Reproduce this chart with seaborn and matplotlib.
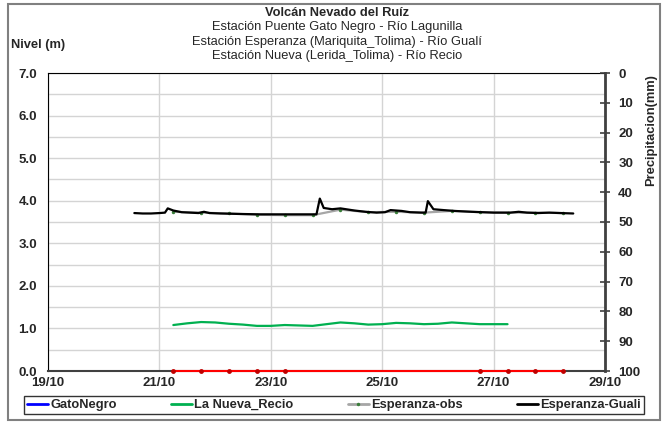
import matplotlib
matplotlib.use("Agg")
import matplotlib.pyplot as plt
import matplotlib.dates as mdates
from matplotlib.patches import Rectangle
from matplotlib.lines import Line2D
import seaborn as sns
import pandas as pd
import numpy as np

# Fechas en dias de octubre (fraccion de dia)
guali_dias = [20.55, 20.7, 20.85, 21.0, 21.1, 21.15, 21.25, 21.4, 21.55, 21.7, 21.8, 21.9,
              22.1, 22.4, 22.8, 23.2, 23.5, 23.82, 23.88, 23.95, 24.1, 24.25, 24.5, 24.7,
              24.9, 25.05, 25.15, 25.35, 25.5, 25.7, 25.78, 25.82, 25.92, 26.1, 26.3, 26.6,
              27.0, 27.3, 27.45, 27.6, 27.8, 28.0, 28.2, 28.43]
guali_nivel = [3.71, 3.70, 3.70, 3.71, 3.72, 3.82, 3.77, 3.73, 3.72, 3.71, 3.74, 3.71,
               3.70, 3.69, 3.68, 3.68, 3.68, 3.68, 4.05, 3.83, 3.80, 3.82, 3.77, 3.74,
               3.72, 3.73, 3.78, 3.76, 3.73, 3.72, 3.72, 3.99, 3.80, 3.78, 3.76, 3.74,
               3.72, 3.72, 3.74, 3.72, 3.71, 3.72, 3.71, 3.70]

obs_dias = [21.25, 21.75, 22.25, 22.75, 23.25, 23.75, 24.25, 24.75, 25.25, 25.75,
            26.25, 26.75, 27.25, 27.75, 28.25]
obs_nivel = [3.74, 3.72, 3.70, 3.67, 3.66, 3.66, 3.79, 3.73, 3.74, 3.72,
             3.76, 3.73, 3.72, 3.72, 3.71]

recio_dias = [21.25, 21.5, 21.75, 22.0, 22.25, 22.5, 22.75, 23.0, 23.25, 23.5, 23.75,
              24.0, 24.25, 24.5, 24.75, 25.0, 25.25, 25.5, 25.75, 26.0, 26.25, 26.5,
              26.75, 27.0, 27.25]
recio_nivel = [1.08, 1.12, 1.15, 1.14, 1.11, 1.09, 1.06, 1.06, 1.08, 1.07, 1.06,
               1.10, 1.14, 1.12, 1.09, 1.10, 1.13, 1.12, 1.10, 1.11, 1.14, 1.12,
               1.10, 1.10, 1.10]

cero_dias = [21.25, 21.75, 22.25, 22.75, 23.25, 26.75, 27.25, 27.75, 28.25]
cero_nivel = [0, 0, 0, 0, 0, 0, 0, 0, 0]


def to_dates(dias):
    base = pd.Timestamp("2012-10-01")
    return [base + pd.Timedelta(days=d - 1) for d in dias]


sns.set_style("white")
plt.rcParams['font.family'] = ['Liberation Sans', 'DejaVu Sans']

fig = plt.figure(figsize=(6.66, 4.24), dpi=100)
ax = fig.add_axes([48 / 666, 53 / 424, 557 / 666, 298 / 424])

df_g = pd.DataFrame({"fecha": to_dates(guali_dias), "nivel": guali_nivel})
df_o = pd.DataFrame({"fecha": to_dates(obs_dias), "nivel": obs_nivel})
df_r = pd.DataFrame({"fecha": to_dates(recio_dias), "nivel": recio_nivel})
df_c = pd.DataFrame({"fecha": to_dates(cero_dias), "nivel": cero_nivel})

sns.lineplot(data=df_r, x="fecha", y="nivel", ax=ax, color="#00b050", lw=1.6)
sns.lineplot(data=df_o, x="fecha", y="nivel", ax=ax, color="#a6a6a6", lw=1.6,
             marker="o", markersize=2.5, markerfacecolor="#3a7d3a", markeredgewidth=0)
sns.lineplot(data=df_g, x="fecha", y="nivel", ax=ax, color="black", lw=1.6)
sns.lineplot(data=df_c, x="fecha", y="nivel", ax=ax, color="red", lw=1.5,
             marker="o", markersize=3.5, markerfacecolor="#c00000", markeredgewidth=0,
             clip_on=False, zorder=5)

ax.set_xlim(pd.Timestamp("2012-10-19"), pd.Timestamp("2012-10-29"))
ax.set_ylim(0, 7)
ax.xaxis.set_major_locator(mdates.DayLocator(bymonthday=[19, 21, 23, 25, 27, 29]))
ax.xaxis.set_major_formatter(mdates.DateFormatter("%d/%m"))
ax.set_yticks(np.arange(0, 7.1, 1.0))
ax.set_yticks(np.arange(0, 7.1, 0.5), minor=True)
ax.yaxis.set_major_formatter(matplotlib.ticker.FormatStrFormatter("%.1f"))
ax.grid(True, which="both", axis="y", color="#d4d4d4", lw=1)
ax.grid(True, which="major", axis="x", color="#d4d4d4", lw=1)
ax.set_axisbelow(True)
ax.set_xlabel("")
ax.set_ylabel("")
ax.tick_params(axis="y", which="both", length=0, pad=8, labelsize=9.5)
ax.tick_params(axis="x", length=0, pad=4, labelsize=9.5)
for lab in ax.get_xticklabels() + ax.get_yticklabels():
    lab.set_fontweight("bold")

ax.spines["left"].set_color("black")
ax.spines["left"].set_linewidth(0.8)
ax.spines["top"].set_color("black")
ax.spines["top"].set_linewidth(0.8)
ax.spines["bottom"].set_color("#404040")
ax.spines["bottom"].set_linewidth(1.5)
ax.spines["right"].set_visible(False)

ax2 = ax.twinx()
ax2.set_ylim(100, 0)
ax2.set_yticks(np.arange(0, 101, 10))
ax2.tick_params(axis="y", direction="inout", length=7, width=1.2, color="#404040",
                labelsize=9.5, pad=6)
for lab in ax2.get_yticklabels():
    lab.set_fontweight("bold")
for s in ["left", "top", "bottom"]:
    ax2.spines[s].set_visible(False)
ax2.spines["right"].set_color("#404040")
ax2.spines["right"].set_linewidth(2)

# Titulos
fig.text(337 / 666, 1 - 13 / 424, "Volcán Nevado del Ruíz", ha="center", va="center",
         fontsize=9.3, fontweight="bold")
fig.text(337 / 666, 1 - 27 / 424, "Estación Puente Gato Negro - Río Lagunilla",
         ha="center", va="center", fontsize=9.3)
fig.text(337 / 666, 1 - 42 / 424, "Estación Esperanza (Mariquita_Tolima) - Río Gualí",
         ha="center", va="center", fontsize=9.3)
fig.text(337 / 666, 1 - 56 / 424, "Estación Nueva (Lerida_Tolima) - Río Recio",
         ha="center", va="center", fontsize=9.3)
fig.text(11 / 666, 1 - 45 / 424, "Nivel (m)", ha="left", va="center",
         fontsize=9.3, fontweight="bold")
fig.text(651 / 666, 1 - 130 / 424, "Precipitacion(mm)", ha="center", va="center",
         rotation=90, fontsize=9.3, fontweight="bold")

# Leyenda
handles = [Line2D([], [], color="#0000ff", lw=2),
           Line2D([], [], color="#00b050", lw=2),
           Line2D([], [], color="#a6a6a6", lw=2, marker="o", markersize=2.5,
                  markerfacecolor="#3a7d3a", markeredgewidth=0),
           Line2D([], [], color="black", lw=2)]
labels = ["GatoNegro", "La Nueva_Recio", "Esperanza-obs", "Esperanza-Guali"]
leg = fig.legend(handles, labels, loc="center", bbox_to_anchor=(334 / 666, 1 - 405 / 424),
                 ncol=4, frameon=True, fancybox=False, handlelength=1.6,
                 handletextpad=0.2, columnspacing=4.2, borderpad=0.25,
                 prop={"weight": "bold", "size": 9.3})
leg.get_frame().set_edgecolor("black")
leg.get_frame().set_linewidth(1)

# Borde exterior
fig.patches.append(Rectangle((8 / 666, 4 / 424), 652 / 666, 416 / 424,
                             transform=fig.transFigure, fill=False,
                             edgecolor="#808080", lw=1.5))

fig.savefig("out.png", dpi=100)
